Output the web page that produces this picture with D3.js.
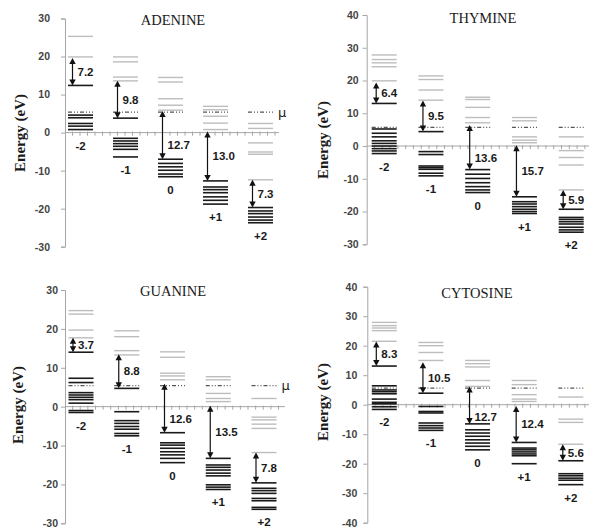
<!DOCTYPE html>
<html>
<head>
<meta charset="utf-8">
<script src="https://cdn.jsdelivr.net/npm/d3@7"></script>
<style>
  body { margin: 0; background: #fff; }
  svg { display: block; }
</style>
</head>
<body>
<svg id="chart" width="589" height="527"></svg>
<script>
// Charge states shown as the five level stacks of every panel
const charges = ["-2", "-1", "0", "+1", "+2"];

// ---- Adenine (eV) ----
const adenineTicks = [30, 20, 10, 0, -10, -20, -30];
const adenineMu = 5.4;
const adenineFilled = [
  [12.4, 4.6, 3.9, 2.4, 1.7, 0.8],
  [3.8, -1.5, -2.2, -2.9, -3.6, -4.4, -6.4],
  [-7.0, -8.1, -9.0, -9.9, -10.9, -11.6],
  [-12.7, -14.3, -15.0, -15.8, -16.9, -17.8, -18.8],
  [-19.7, -20.6, -21.3, -22.2, -23.0, -23.7]
];
const adenineEmpty = [
  [25.3, 19.9],
  [19.9, 18.6, 14.6, 13.6],
  [14.5, 13.3, 8.9, 7.2, 5.9],
  [6.9, 6.0, 4.3, 2.5, 0.8],
  [2.4, 1.1, -2.7, -5.1, -5.7, -12.4]
];
const adenineGap = [7.2, 9.8, 12.7, 13.0, 7.3];
const adenineGapBase = [12.4, 3.8, -7.0, -12.7, -19.7];

// ---- Thymine (eV) ----
const thymineTicks = [40, 30, 20, 10, 0, -10, -20, -30];
const thymineMu = 5.7;
const thymineFilled = [
  [13.0, 5.2, 3.9, 2.8, 1.6, 0.8, 0.0, -0.8, -1.5, -2.3],
  [4.4, -1.7, -2.6, -6.1, -6.6, -7.1, -8.3, -9.1],
  [-7.2, -8.6, -9.9, -11.2, -12.4, -13.4, -14.2],
  [-15.5, -17.0, -17.7, -18.5, -19.3, -20.0, -20.6],
  [-19.3, -21.8, -22.4, -23.1, -23.8, -24.8, -25.6, -26.3]
];
const thymineEmpty = [
  [27.8, 26.4, 25.4, 24.2, 19.9],
  [21.4, 20.3, 17.1, 14.0],
  [14.9, 14.2, 11.8, 8.7, 7.1],
  [8.7, 7.7, 2.8, 1.8, 1.0],
  [2.8, -1.4, -3.5, -5.8, -13.4]
];
const thymineGap = [6.4, 9.5, 13.6, 15.7, 5.9];
const thymineGapBase = [13.0, 4.4, -7.2, -15.5, -19.3];

// ---- Guanine (eV) ----
const guanineTicks = [30, 20, 10, 0, -10, -20, -30];
const guanineMu = 5.4;
const guanineFilled = [
  [14.0, 7.3, 6.2, 3.6, 3.0, 2.4, 1.8, 0.9, -1.0, -1.5],
  [4.7, -1.3, -3.6, -4.3, -5.1, -5.8, -6.9, -7.5],
  [-6.7, -9.3, -9.9, -10.7, -11.6, -12.4, -13.3, -14.4],
  [-13.3, -15.0, -15.6, -16.3, -17.1, -17.8, -20.1, -20.7, -21.3],
  [-19.6, -21.0, -21.6, -22.3, -23.6, -24.2, -25.9, -26.4]
];
const guanineEmpty = [
  [24.7, 23.8, 19.7, 17.7],
  [19.5, 18.0, 14.4, 13.3],
  [14.1, 12.7, 8.6, 7.9, 6.9],
  [7.7, 6.9, 3.4, 2.1, 1.3],
  [2.1, -2.7, -3.4, -4.5, -5.6, -11.8]
];
const guanineGap = [3.7, 8.8, 12.6, 13.5, 7.8];
const guanineGapBase = [14.0, 4.7, -6.7, -13.3, -19.6];

// ---- Cytosine (eV) ----
const cytosineTicks = [40, 30, 20, 10, 0, -10, -20, -30, -40];
const cytosineMu = 5.6;
const cytosineFilled = [
  [13.1, 6.4, 5.0, 4.4, 3.7, 1.9, 0.8, 0.3, -0.7, -1.6],
  [3.9, -0.6, -2.3, -2.8, -6.2, -7.1, -7.9, -8.7],
  [-6.5, -8.5, -9.6, -10.7, -11.9, -13.0, -14.1, -15.3],
  [-12.8, -14.7, -15.3, -16.0, -16.7, -17.3, -20.0],
  [-19.0, -23.4, -24.1, -24.9, -25.6, -27.1]
];
const cytosineEmpty = [
  [27.9, 26.8, 26.0, 25.1, 21.5],
  [21.1, 20.0, 17.7, 15.0],
  [15.0, 13.9, 12.8, 8.2, 6.2],
  [8.2, 6.8, 3.4, 1.9, 1.1],
  [2.6, -4.9, -6.0, -13.4]
];
const cytosineGap = [8.3, 10.5, 12.7, 12.4, 5.6];
const cytosineGapBase = [13.1, 3.9, -6.5, -12.8, -19.0];

const titles = ["ADENINE", "THYMINE", "GUANINE", "CYTOSINE"];
const yTitle = "Energy (eV)";
const muText = "\u03bc";

// Panel placement on the page
const panels = [
  { title: titles[0], ticks: adenineTicks, mu: adenineMu, filled: adenineFilled, empty: adenineEmpty,
    gap: adenineGap, base: adenineGapBase,
    axisX: 65, top: 18.5, bottom: 246.7, first: 15.5, last: 195.5, axisEnd: 279,
    titleX: 173, titleY: 20, labX: 20, labY: 133, tickGap: 15 },
  { title: titles[1], ticks: thymineTicks, mu: thymineMu, filled: thymineFilled, empty: thymineEmpty,
    gap: thymineGap, base: thymineGapBase,
    axisX: 366.7, top: 15, bottom: 244.3, first: 17.5, last: 204.5, axisEnd: 595,
    titleX: 483, titleY: 18, labX: 323, labY: 140, tickGap: 8 },
  { title: titles[2], ticks: guanineTicks, mu: guanineMu, filled: guanineFilled, empty: guanineEmpty,
    gap: guanineGap, base: guanineGapBase,
    axisX: 65, top: 290, bottom: 523.3, first: 16, last: 199, axisEnd: 285,
    titleX: 173, titleY: 291, labX: 18, labY: 405, tickGap: 7 },
  { title: titles[3], ticks: cytosineTicks, mu: cytosineMu, filled: cytosineFilled, empty: cytosineEmpty,
    gap: cytosineGap, base: cytosineGapBase,
    axisX: 367.3, top: 286.7, bottom: 522.7, first: 17, last: 203.5, axisEnd: 595,
    titleX: 477, titleY: 293, labX: 323, labY: 402, tickGap: 10 }
];

const svg = d3.select("#chart");
const sans = "'Liberation Sans', Arial, sans-serif";
const serif = "'Liberation Serif', 'Times New Roman', serif";
const axisColor = "#a6a6a6";
const half = 12.5;

function drawPanel(p) {
  const g = svg.append("g");
  const y = d3.scaleLinear().domain(d3.extent(p.ticks)).range([p.bottom, p.top]);
  const x = d3.scalePoint().domain(charges).range([p.axisX + p.first, p.axisX + p.last]);
  const y0 = y(0);

  // vertical axis
  const ya = g.append("g")
    .attr("transform", `translate(${p.axisX},0)`)
    .call(d3.axisLeft(y).tickValues(p.ticks).tickSize(4)
      .tickPadding(p.tickGap - 4).tickFormat(d => String(d)));
  ya.select(".domain").attr("stroke", axisColor);
  ya.selectAll(".tick line").attr("stroke", axisColor);
  ya.selectAll(".tick text")
    .attr("fill", "#444").attr("font-family", sans)
    .attr("font-size", 10.5).attr("font-weight", "bold");

  // horizontal zero axis with fine tick marks
  g.append("line")
    .attr("x1", p.axisX).attr("x2", p.axisEnd)
    .attr("y1", y0).attr("y2", y0)
    .attr("stroke", axisColor).attr("stroke-width", 1);
  const minor = x.step() / 6;
  g.selectAll("line.xt")
    .data(d3.range(p.axisX + minor, p.axisEnd, minor))
    .join("line").attr("class", "xt")
    .attr("x1", d => d).attr("x2", d => d)
    .attr("y1", y0 - 1).attr("y2", y0 + 3)
    .attr("stroke", axisColor).attr("stroke-width", 1);

  charges.forEach((c, i) => {
    const cx = x(c);
    // unoccupied levels
    g.selectAll(null).data(p.empty[i]).join("line")
      .attr("x1", cx - half).attr("x2", cx + half)
      .attr("y1", d => y(d)).attr("y2", d => y(d))
      .attr("stroke", "#bdbdbd").attr("stroke-width", 1.4);
    // chemical potential
    g.append("line")
      .attr("x1", cx - half).attr("x2", cx + half)
      .attr("y1", y(p.mu)).attr("y2", y(p.mu))
      .attr("stroke", "#555").attr("stroke-width", 1.2)
      .attr("stroke-dasharray", "4,2,1,2,1,2");
    // occupied levels
    g.selectAll(null).data(p.filled[i]).join("line")
      .attr("x1", cx - half).attr("x2", cx + half)
      .attr("y1", d => y(d)).attr("y2", d => y(d))
      .attr("stroke", "#1a1a1a").attr("stroke-width", 1.6);

    // gap arrow
    const ax = cx - 8;
    const yl = y(p.base[i]);
    const yh = y(p.base[i] + p.gap[i]);
    g.append("line")
      .attr("x1", ax).attr("x2", ax)
      .attr("y1", yh + 4).attr("y2", yl - 4)
      .attr("stroke", "#111").attr("stroke-width", 1.2);
    g.append("path")
      .attr("d", `M${ax},${yh}L${ax - 3.2},${yh + 6}L${ax + 3.2},${yh + 6}Z`)
      .attr("fill", "#111");
    g.append("path")
      .attr("d", `M${ax},${yl}L${ax - 3.2},${yl - 6}L${ax + 3.2},${yl - 6}Z`)
      .attr("fill", "#111");
    let ly = (yl + yh) / 2;
    if (Math.abs(ly - y0) < 12) ly = y0 + 12;
    g.append("text")
      .attr("x", ax + 5).attr("y", ly)
      .attr("dy", "0.35em")
      .attr("font-family", sans).attr("font-size", 11.5).attr("font-weight", "bold")
      .attr("fill", "#1a1a1a")
      .text(p.gap[i].toFixed(1));

    // charge label under each stack
    const lowest = d3.min(p.filled[i].concat(p.empty[i]));
    g.append("text")
      .attr("x", cx).attr("y", Math.max(y(lowest), y0) + 13)
      .attr("dy", "0.35em").attr("text-anchor", "middle")
      .attr("font-family", sans).attr("font-size", 11.5).attr("font-weight", "bold")
      .attr("fill", "#1a1a1a")
      .text(c);
  });

  // chemical potential label
  g.append("text")
    .attr("x", x(charges[charges.length - 1]) + half + 5).attr("y", y(p.mu))
    .attr("dy", "0.35em")
    .attr("font-family", "'DejaVu Sans', sans-serif").attr("font-size", 13)
    .attr("fill", "#222")
    .text(muText);

  // panel title
  g.append("text")
    .attr("x", p.titleX).attr("y", p.titleY)
    .attr("dy", "0.35em").attr("text-anchor", "middle")
    .attr("font-family", serif).attr("font-size", 14.5)
    .attr("fill", "#1a1a1a")
    .text(p.title);

  // vertical axis title
  g.append("text")
    .attr("transform", `translate(${p.labX},${p.labY}) rotate(-90)`)
    .attr("dy", "0.35em").attr("text-anchor", "middle")
    .attr("font-family", serif).attr("font-size", 15).attr("font-weight", "bold")
    .attr("fill", "#1a1a1a")
    .text(yTitle);
}

panels.forEach(drawPanel);
</script>
</body>
</html>
